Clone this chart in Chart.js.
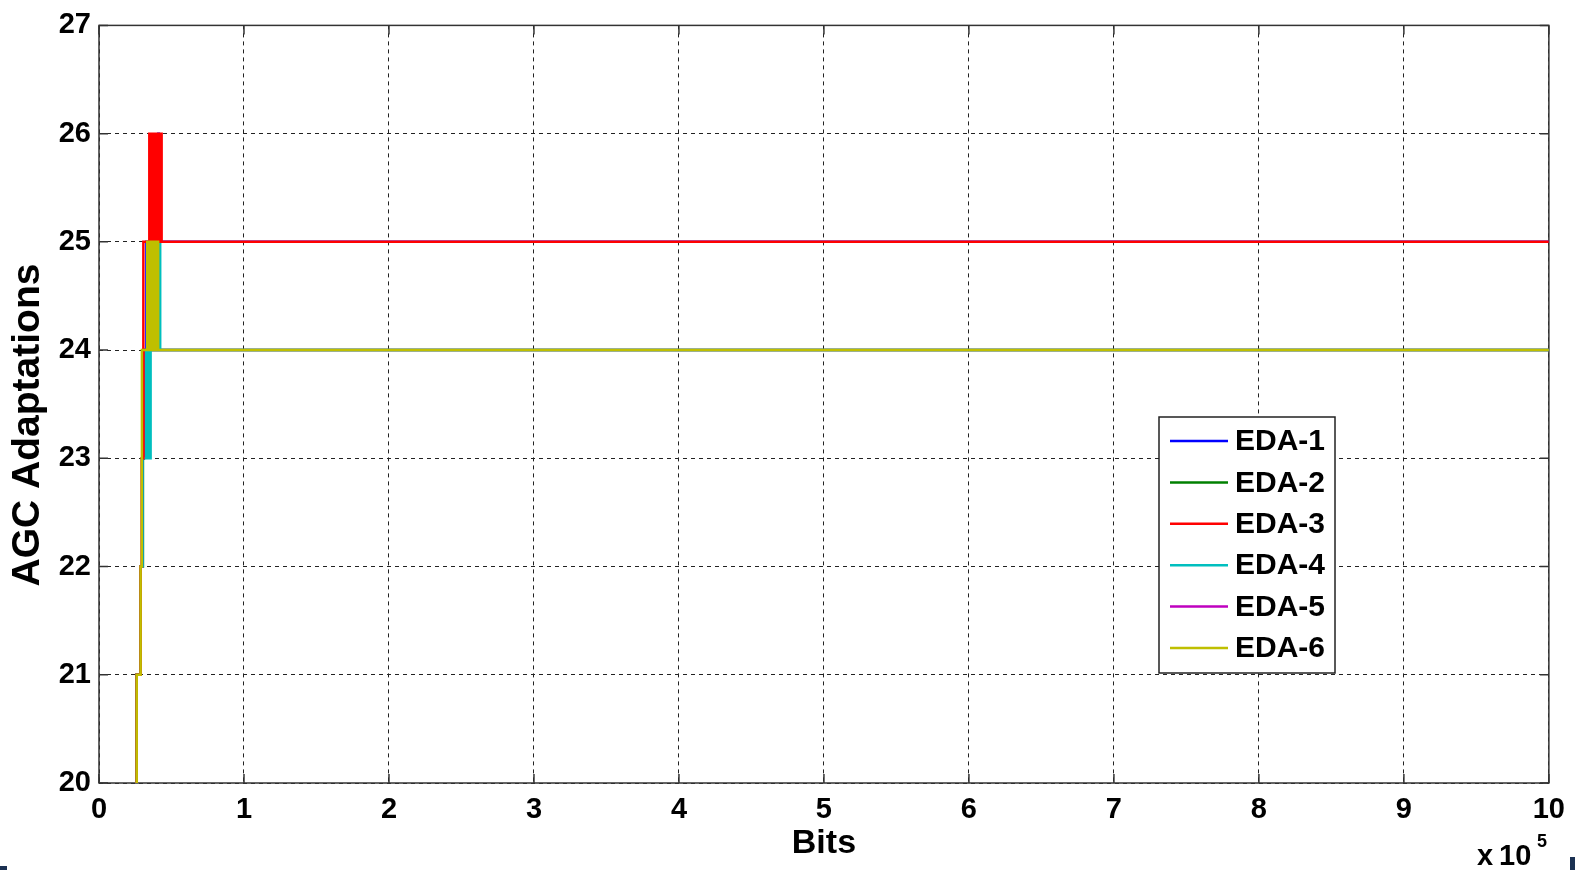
<!DOCTYPE html>
<html><head><meta charset="utf-8">
<script src="https://cdn.jsdelivr.net/npm/chart.js@4"></script>
<style>
html,body{margin:0;padding:0;background:#fff;}
#wrap{position:relative;width:1575px;height:870px;}
canvas{display:block;}
.mk{position:absolute;background:#1b3152;}
</style>
</head><body>
<div id="wrap"><canvas id="c" width="1575" height="870"></canvas>
<div class="mk" style="left:0;top:866px;width:7px;height:4px"></div>
<div class="mk" style="left:1570px;top:857px;width:5px;height:13px"></div>
</div>
<script>
// ---- data ----
const seriesNames = ['EDA-1','EDA-2','EDA-3','EDA-4','EDA-5','EDA-6'];
const seriesColors = ['#0000ff','#008000','#ff0000','#00bfbf','#bf00bf','#bfbf00'];
const xTickLabels = ['0','1','2','3','4','5','6','7','8','9','10'];
const yTickLabels = ['20','21','22','23','24','25','26','27'];

const eda1Bits  = [26000, 26000, 28700, 29700, 30800, 32700, 40900, 41300, 1000000];
const eda1Adapt = [20, 21, 22, 23, 24, 25, 26, 25, 25];

const eda2Bits  = [26000, 26000, 28700, 30300, 31000, 1000000];
const eda2Adapt = [20, 21, 22, 23, 24, 24];

const eda3Bits  = [26000, 26000, 28700, 29500, 30600,
  34700, 35100, 35500, 35900, 36300, 36700, 37100, 37500, 37900, 38300, 38700,
  39100, 39500, 39900, 40300, 40700, 41100, 41500, 41900, 42300, 42700,
  43200, 1000000];
const eda3Adapt = [20, 21, 22, 23, 25,
  26, 25, 26, 25, 26, 25, 26, 25, 26, 25, 26,
  25, 26, 25, 26, 25, 26, 25, 26, 25, 26,
  25, 25];

const eda4Bits  = [26000, 26000, 28700, 30000,
  32400, 32800, 33200, 33600, 34000, 34400, 34800, 35200, 35600,
  41800, 42200, 1000000];
const eda4Adapt = [20, 21, 22, 23,
  24, 23, 24, 23, 24, 23, 24, 23, 24,
  25, 24, 24];

const eda5Bits  = [26000, 26000, 28700, 29800, 30700, 1000000];
const eda5Adapt = [20, 21, 22, 23, 24, 24];

const eda6Bits  = [26000, 26000, 28700, 29500, 29600,
  33300, 33700, 34100, 34500, 34900, 35300, 35700, 36100, 36500, 36900,
  37300, 37700, 38100, 38500, 38900, 39300, 39700, 40100, 40500,
  40800, 1000000];
const eda6Adapt = [20, 21, 22, 23, 24,
  25, 24, 25, 24, 25, 24, 25, 24, 25, 24,
  25, 24, 25, 24, 25, 24, 25, 24, 25,
  24, 24];

const allBits  = [eda1Bits, eda2Bits, eda3Bits, eda4Bits, eda5Bits, eda6Bits];
const allAdapt = [eda1Adapt, eda2Adapt, eda3Adapt, eda4Adapt, eda5Adapt, eda6Adapt];
// drawing layer (lower = on top)
const drawOrder = [5, 4, 1, 2, 3, 0];

const FONT = "'Liberation Sans', Arial, sans-serif";
Chart.defaults.font.family = FONT;
Chart.defaults.color = '#000';

const datasets = seriesNames.map((name, i) => ({
  label: name,
  data: allBits[i].map((b, k) => ({x: b, y: allAdapt[i][k]})),
  borderColor: seriesColors[i],
  backgroundColor: seriesColors[i],
  borderWidth: 2.5,
  pointRadius: 0,
  stepped: 'before',
  fill: false,
  order: drawOrder[i]
}));

const frame = {
  id: 'frame',
  beforeDatasetsDraw(chart) {
    const {ctx, chartArea: a, scales: {x, y}} = chart;
    ctx.save();
    ctx.strokeStyle = '#333';
    ctx.lineWidth = 1.5;
    ctx.strokeRect(a.left, a.top, a.right - a.left, a.bottom - a.top);
    ctx.beginPath();
    y.ticks.forEach(t => {
      const py = y.getPixelForValue(t.value);
      ctx.moveTo(a.left, py); ctx.lineTo(a.left + 9, py);
      ctx.moveTo(a.right, py); ctx.lineTo(a.right - 9, py);
    });
    x.ticks.forEach(t => {
      const px = x.getPixelForValue(t.value);
      ctx.moveTo(px, a.bottom); ctx.lineTo(px, a.bottom - 9);
      ctx.moveTo(px, a.top); ctx.lineTo(px, a.top + 9);
    });
    ctx.stroke();
    ctx.restore();
  },
  afterDatasetsDraw(chart) {
    const ctx = chart.ctx;
    ctx.save();
    // legend box
    const L = 1159, T = 417, R = 1335, B = 673;
    ctx.fillStyle = '#fff';
    ctx.fillRect(L, T, R - L, B - T);
    ctx.strokeStyle = '#222';
    ctx.lineWidth = 1.5;
    ctx.strokeRect(L, T, R - L, B - T);
    ctx.font = 'bold 30px ' + FONT;
    ctx.textBaseline = 'middle';
    ctx.textAlign = 'left';
    seriesNames.forEach((n, i) => {
      const yy = 441 + i * 41.4;
      ctx.strokeStyle = seriesColors[i];
      ctx.lineWidth = 2.5;
      ctx.beginPath(); ctx.moveTo(1170, yy); ctx.lineTo(1228, yy); ctx.stroke();
      ctx.fillStyle = '#000';
      ctx.fillText(n, 1235, yy + 1);
    });
    ctx.restore();
  },
  afterDraw(chart) {
    const ctx = chart.ctx;
    ctx.save();
    ctx.fillStyle = '#000';
    // y title
    ctx.translate(28, 425);
    ctx.rotate(-Math.PI / 2);
    ctx.font = 'bold 39px ' + FONT;
    ctx.textAlign = 'center';
    ctx.textBaseline = 'middle';
    ctx.fillText('AGC Adaptations', 0, 0);
    ctx.restore();
    // exponent label
    ctx.save();
    ctx.fillStyle = '#000';
    ctx.font = 'bold 29px ' + FONT;
    ctx.textBaseline = 'alphabetic';
    ctx.textAlign = 'left';
    ctx.fillText('x', 1477, 865);
    ctx.fillText('10', 1499, 865);
    ctx.font = 'bold 18px ' + FONT;
    ctx.fillText('5', 1537, 847);
    ctx.restore();
  }
};

new Chart(document.getElementById('c'), {
  type: 'line',
  data: { datasets },
  options: {
    responsive: false,
    devicePixelRatio: 1,
    animation: false,
    layout: { padding: { top: 20, right: 24, left: 0, bottom: 0 } },
    plugins: { legend: { display: false }, tooltip: { enabled: false } },
    scales: {
      x: {
        type: 'linear', min: 0, max: 1000000,
        afterFit: s => { s.height = 87; },
        ticks: {
          stepSize: 100000, autoSkip: false, maxRotation: 0, padding: 10,
          font: { size: 29, weight: 'bold' }, color: '#000',
          callback: (v) => xTickLabels[Math.round(v / 100000)]
        },
        grid: { color: '#222', lineWidth: 1, drawTicks: false },
        border: { display: false, dash: [4, 4] },
        title: { display: true, text: 'Bits', font: { size: 34, weight: 'bold' }, color: '#000', padding: { top: 0, bottom: 6 } }
      },
      y: {
        type: 'linear', min: 20, max: 27,
        afterFit: s => { s.width = 99; },
        ticks: {
          stepSize: 1, padding: 8,
          font: { size: 29, weight: 'bold' }, color: '#000',
          callback: (v) => yTickLabels[Math.round(v - 20)]
        },
        grid: { color: '#222', lineWidth: 1, drawTicks: false },
        border: { display: false, dash: [4, 4] }
      }
    }
  },
  plugins: [frame]
});
</script>
</body></html>
